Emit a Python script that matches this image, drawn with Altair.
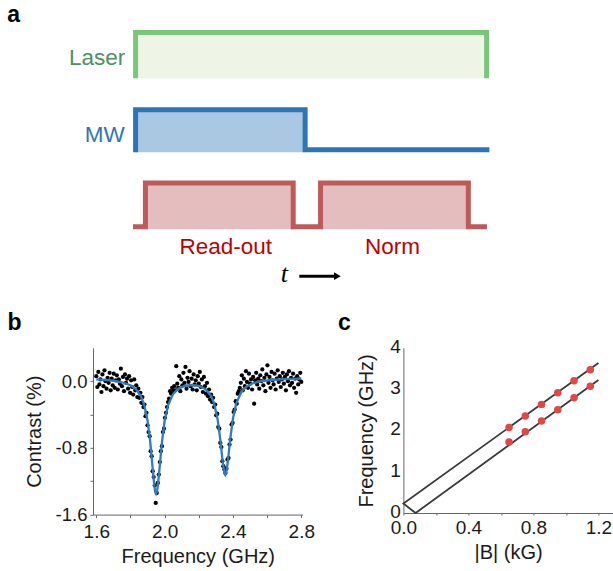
import altair as alt
import pandas as pd

FONT = "Liberation Sans"

# ---------------- panel a : pulse sequence (time units 0..100) ----------------
laser_t = [0, 0, 100, 100]
laser_lv = [76.5, 100, 100, 76.5]
mw_t = [0, 0, 48.3, 48.3, 100.8]
mw_lv = [38.4, 60.2, 60.2, 39.6, 39.6]
ro_t = [-0.75, 2.8, 2.8, 44.9, 44.9, 52.7, 52.7, 94.8, 94.8, 100.1]
ro_lv = [0, 0, 22.5, 22.5, 0, 0, 22.5, 22.5, 0, 0]

fill_t0 = [0, 0, 2.8, 52.7]
fill_t1 = [100, 48.3, 44.9, 94.8]
fill_lo = [76.5, 38.4, -1.3, -1.3]
fill_hi = [100, 60.2, 22.5, 22.5]
fill_col = ["#EEF5E7", "#ABC8E2", "#E4BEBE", "#E4BEBE"]

chan_names = ["Laser", "MW"]
chan_t = [-2.95, -3.1]
chan_lv = [83.4, 43.5]
chan_col = ["#4E8F63", "#2E75B6"]

win_names = ["Read-out", "Norm"]
win_t = [25.7, 73.2]
win_lv = [-14.3, -14.3]

# ---------------- panel b : ODMR spectrum ----------------
f1 = [1.600,1.606,1.612,1.618,1.624,1.630,1.636,1.642,1.648,1.654,1.660,1.666,1.672,1.678,1.684,1.690,1.696,1.702,1.708,1.714,1.720,1.726,1.732,1.738,1.744,1.750,1.756,1.762,1.768,1.774,1.780,1.786,1.792,1.798,1.804,1.810,1.816,1.822,1.828,1.834,1.840]
c1 = [0.06,-0.07,0.11,-0.04,0.02,-0.13,0.08,-0.06,0.13,0.00,-0.09,0.04,-0.02,0.10,-0.11,0.03,-0.05,0.09,-0.08,0.01,0.07,-0.10,0.02,-0.03,0.15,-0.06,0.05,-0.12,0.08,-0.02,0.03,-0.09,0.06,-0.14,0.01,-0.07,-0.16,0.02,-0.11,-0.05,-0.19]
f2 = [1.846,1.852,1.858,1.864,1.870,1.876,1.882,1.888,1.894,1.900,1.906,1.912,1.918,1.924,1.930,1.936,1.942,1.948,1.954,1.960,1.966,1.972,1.978,1.984,1.990,1.996,2.002,2.008,2.014,2.020,2.026,2.032,2.038,2.044,2.050]
c2 = [-0.09,-0.20,-0.14,-0.26,-0.19,-0.31,-0.28,-0.42,-0.38,-0.53,-0.61,-0.66,-0.84,-0.90,-1.08,-1.15,-1.25,-1.46,-1.34,-1.22,-1.12,-0.97,-0.84,-0.78,-0.61,-0.57,-0.44,-0.38,-0.31,-0.25,-0.21,-0.12,-0.15,-0.08,-0.12]
f3 = [2.056,2.062,2.068,2.074,2.080,2.086,2.092,2.098,2.104,2.110,2.116,2.122,2.128,2.134,2.140,2.146,2.152,2.158,2.164,2.170,2.176,2.182,2.188,2.194,2.200,2.206,2.212,2.218,2.224,2.230,2.236,2.242,2.248,2.254,2.260,2.266,2.272,2.278]
c3 = [-0.06,-0.11,0.18,-0.03,-0.08,0.06,-0.12,0.02,-0.05,0.10,-0.02,0.17,-0.09,0.04,-0.01,0.12,-0.06,0.03,-0.10,0.08,-0.04,0.01,-0.11,0.06,-0.03,0.11,-0.07,0.02,-0.13,0.05,-0.06,-0.15,-0.02,-0.18,-0.10,-0.22,-0.16,-0.25]
f4 = [2.284,2.290,2.296,2.302,2.308,2.314,2.320,2.326,2.332,2.338,2.344,2.350,2.356,2.362,2.368,2.374,2.380,2.386,2.392,2.398,2.404,2.410,2.416,2.422,2.428,2.434,2.440]
c4 = [-0.20,-0.31,-0.28,-0.41,-0.39,-0.55,-0.57,-0.74,-0.79,-0.96,-1.02,-1.06,-1.10,-1.05,-0.94,-0.92,-0.76,-0.70,-0.52,-0.50,-0.37,-0.34,-0.24,-0.27,-0.15,-0.12,-0.08]
f5 = [2.446,2.452,2.458,2.464,2.470,2.476,2.482,2.488,2.494,2.500,2.506,2.512,2.518,2.524,2.530,2.536,2.542,2.548,2.554,2.560,2.566,2.572,2.578,2.584,2.590,2.596,2.602,2.608,2.614,2.620,2.626,2.632,2.638,2.644,2.650,2.656,2.662,2.668,2.674,2.680,2.686,2.692,2.698,2.704,2.710,2.716,2.722,2.728,2.734,2.740,2.746,2.752,2.758,2.764,2.770,2.776,2.782,2.788,2.794,2.800]
c5 = [-0.02,0.07,-0.11,0.03,-0.06,0.12,-0.01,-0.08,0.09,-0.03,0.02,-0.10,0.05,-0.27,0.01,0.10,-0.04,0.03,-0.09,0.07,0.00,0.14,-0.05,0.04,-0.12,0.08,0.19,-0.02,0.05,-0.08,0.11,0.01,-0.04,0.09,-0.10,0.03,0.13,-0.01,0.06,-0.07,0.02,0.10,-0.03,0.05,-0.11,0.08,0.00,0.12,-0.05,0.04,-0.02,0.09,-0.08,0.03,-0.14,0.06,-0.04,0.02,0.10,-0.01]

fit_f = [1.60,1.65,1.70,1.75,1.80,1.83,1.86,1.88,1.90,1.915,1.93,1.94,1.945,1.95,1.955,1.96,1.97,1.985,2.00,2.02,2.05,2.08,2.12,2.16,2.20,2.24,2.27,2.29,2.31,2.325,2.34,2.35,2.355,2.36,2.37,2.385,2.40,2.42,2.45,2.48,2.52,2.56,2.62,2.70,2.80]
fit_c = [0.021,0.015,0.005,-0.013,-0.049,-0.092,-0.175,-0.281,-0.472,-0.714,-1.049,-1.259,-1.325,-1.348,-1.325,-1.262,-1.053,-0.718,-0.478,-0.289,-0.152,-0.090,-0.055,-0.046,-0.056,-0.097,-0.171,-0.270,-0.455,-0.684,-0.969,-1.104,-1.124,-1.104,-0.966,-0.679,-0.449,-0.262,-0.127,-0.063,-0.023,-0.002,0.014,0.024,0.030]

# ---------------- panel c : frequency vs field ----------------
B_pts = [0.65, 0.75, 0.85, 0.95, 1.05, 1.15]
f_upper = [2.07, 2.35, 2.63, 2.91, 3.20, 3.47]
f_lower = [1.72, 1.97, 2.23, 2.50, 2.79, 3.07]
line_B = [1.2, 0.0, 0.075, 1.2]
line_f = [3.63, 0.23, 0.0, 3.22]

# ====================== panel a ======================
XA = alt.Scale(domain=[-12.137, 135.87], nice=False, zero=False)
YA = alt.Scale(domain=[0, 100], nice=False, zero=False)


def xa(f):
    return alt.X(f, type="quantitative", scale=XA, axis=None)


def ya(f):
    return alt.Y(f, type="quantitative", scale=YA, axis=None)


df_fill = pd.DataFrame({"t0": fill_t0, "t1": fill_t1, "lo": fill_lo, "hi": fill_hi, "col": fill_col})
rows = []
for ch, ts, ls, col in [("laser", laser_t, laser_lv, "#78C77A"),
                        ("mw", mw_t, mw_lv, "#2E75B6"),
                        ("ro", ro_t, ro_lv, "#BE5A5A")]:
    for i, (t, l) in enumerate(zip(ts, ls)):
        rows.append({"ch": ch, "i": i, "t": t, "lv": l, "col": col})
df_lines = pd.DataFrame(rows)

rects = alt.Chart(df_fill).mark_rect().encode(
    x=xa("t0"), x2="t1:Q", y=ya("lo"), y2="hi:Q",
    color=alt.Color("col:N", scale=None))
lines = alt.Chart(df_lines).mark_line(strokeWidth=5, strokeJoin="miter", strokeCap="butt").encode(
    x=xa("t"), y=ya("lv"), detail="ch:N", order="i:Q",
    color=alt.Color("col:N", scale=None))
chan_txt = alt.Chart(pd.DataFrame({"t": chan_t, "lv": chan_lv, "s": chan_names, "col": chan_col})).mark_text(
    align="right", baseline="alphabetic", fontSize=22.5, font=FONT).encode(
    x=xa("t"), y=ya("lv"), text="s:N", color=alt.Color("col:N", scale=None))
win_txt = alt.Chart(pd.DataFrame({"t": win_t, "lv": win_lv, "s": win_names})).mark_text(
    align="center", baseline="alphabetic", fontSize=22.5, font=FONT, color="#C00000").encode(
    x=xa("t"), y=ya("lv"), text="s:N")
t_txt = alt.Chart(pd.DataFrame({"t": [42.4], "lv": [-28.6], "s": ["t"]})).mark_text(
    align="center", baseline="alphabetic", fontSize=26, font="Liberation Serif",
    fontStyle="italic", color="black").encode(x=xa("t"), y=ya("lv"), text="s:N")
arrow_line = alt.Chart(pd.DataFrame({"t": [46.64], "t2": [56.6], "lv": [-25.5]})).mark_rule(
    strokeWidth=3, color="black").encode(x=xa("t"), x2="t2:Q", y=ya("lv"))
arrow_head = alt.Chart(pd.DataFrame({"t": [57.5], "lv": [-25.5]})).mark_point(
    shape="triangle-right", size=60, filled=True, color="black", opacity=1).encode(
    x=xa("t"), y=ya("lv"))
a_txt = alt.Chart(pd.DataFrame({"t": [-36.55], "lv": [105.4], "s": ["a"]})).mark_text(
    align="left", baseline="alphabetic", fontSize=23, font=FONT, fontWeight="bold",
    color="black").encode(x=xa("t"), y=ya("lv"), text="s:N")

panel_a = alt.layer(rects, lines, chan_txt, win_txt, t_txt, arrow_line, arrow_head, a_txt).properties(
    width=519.5, height=194.2)

# ====================== panel b ======================
AXC = "#666666"
TXC = "#1a1a1a"
XB = alt.Scale(domain=[1.5807, 2.8078], nice=False, zero=False)
YB = alt.Scale(domain=[-1.6, 0.4], nice=False, zero=False)
xb_axis = alt.Axis(values=[1.6, 1.8, 2.0, 2.2, 2.4, 2.6, 2.8],
                   labelExpr="indexof([1.6, 2.0, 2.4, 2.8], datum.value) >= 0 ? format(datum.value, '.1f') : ''",
                   title="Frequency (GHz)", grid=False, tickSize=3, tickColor=AXC, domainColor=AXC,
                   labelFont=FONT, labelFontSize=19, labelColor=TXC, labelPadding=5, labelFlush=False,
                   titleFont=FONT, titleFontSize=20, titleFontWeight="normal", titleColor=TXC, titlePadding=5)
yb_axis = alt.Axis(values=[-1.6, -1.2, -0.8, -0.4, 0.0],
                   labelExpr="indexof([-1.6, -0.8, 0], datum.value) >= 0 ? (datum.value < 0 ? '-' + format(-datum.value, '.1f') : format(datum.value, '.1f')) : ''",
                   title="Contrast (%)", grid=False, tickSize=3, tickColor=AXC, domainColor=AXC,
                   labelFont=FONT, labelFontSize=18.5, labelColor=TXC, labelPadding=3, labelFlush=False,
                   titleFont=FONT, titleFontSize=20, titleFontWeight="normal", titleColor=TXC, titlePadding=11)


def xb(f):
    return alt.X(f, type="quantitative", scale=XB, axis=xb_axis)


def yb(f):
    return alt.Y(f, type="quantitative", scale=YB, axis=yb_axis)


df_pts = pd.DataFrame({"f": f1 + f2 + f3 + f4 + f5, "c": c1 + c2 + c3 + c4 + c5})
df_fit = pd.DataFrame({"f": fit_f, "c": fit_c})
pts_b = alt.Chart(df_pts).mark_circle(size=18, color="black", opacity=1).encode(x=xb("f"), y=yb("c"))
fit_b = alt.Chart(df_fit).mark_line(color="#2F7BC1", strokeWidth=2.3).encode(x=xb("f"), y=yb("c"))
b_txt = alt.Chart(pd.DataFrame({"f": [1.0807], "c": [0.618], "s": ["b"]})).mark_text(
    align="left", baseline="alphabetic", fontSize=23, font=FONT, fontWeight="bold",
    color="black").encode(x=xb("f"), y=yb("c"), text="s:N")
panel_b = alt.layer(pts_b, fit_b, b_txt).properties(width=209.6, height=166.8)

# ====================== panel c ======================
XC = alt.Scale(domain=[0, 1.2892], nice=False, zero=False)
YC = alt.Scale(domain=[0, 4], nice=False, zero=False)
xc_axis = alt.Axis(values=[0.0, 0.2, 0.4, 0.6, 0.8, 1.0, 1.2],
                   labelExpr="indexof([0, 0.4, 0.8, 1.2], datum.value) >= 0 ? format(datum.value, '.1f') : ''",
                   title="|B| (kG)", grid=False, tickSize=2, tickColor=AXC, domainColor=AXC,
                   labelFont=FONT, labelFontSize=19, labelColor=TXC, labelPadding=3, labelFlush=False,
                   titleFont=FONT, titleFontSize=20, titleFontWeight="normal", titleColor=TXC, titlePadding=5)
yc_axis = alt.Axis(values=[0, 1, 2, 3, 4], format="d",
                   title="Frequency (GHz)", grid=False, ticks=False, domainColor=AXC,
                   labelFont=FONT, labelFontSize=19, labelColor=TXC, labelPadding=3, labelFlush=False,
                   labelOffset=-1.5,
                   titleFont=FONT, titleFontSize=20, titleFontWeight="normal", titleColor=TXC, titlePadding=13)


def xc(f):
    return alt.X(f, type="quantitative", scale=XC, axis=xc_axis)


def yc(f):
    return alt.Y(f, type="quantitative", scale=YC, axis=yc_axis)


df_cl = pd.DataFrame({"B": line_B, "f": line_f, "i": list(range(len(line_B)))})
df_cp = pd.DataFrame({"B": B_pts + B_pts, "f": f_upper + f_lower})
line_c = alt.Chart(df_cl).mark_line(color="#3a3a3a", strokeWidth=1.8).encode(
    x=xc("B"), y=yc("f"), order="i:Q")
pts_c = alt.Chart(df_cp).mark_circle(size=56, color="#E04848", opacity=1).encode(x=xc("B"), y=yc("f"))
c_txt = alt.Chart(pd.DataFrame({"B": [-0.4025], "f": [4.44], "s": ["c"]})).mark_text(
    align="left", baseline="alphabetic", fontSize=23, font=FONT, fontWeight="bold",
    color="black").encode(x=xc("B"), y=yc("f"), text="s:N")
panel_c = alt.layer(line_c, pts_c, c_txt).properties(width=209.5, height=165.2)

row = alt.hconcat(panel_b, panel_c, spacing=100.4, bounds="flush")
chart = alt.vconcat(panel_a, row, spacing=120.3, bounds="flush").properties(
    padding={"left": 7, "top": 3.5, "right": 0, "bottom": 2},
    background="white",
).configure_view(stroke=None)

chart.save("out.html", embed_options={"renderer": "svg", "actions": False})
